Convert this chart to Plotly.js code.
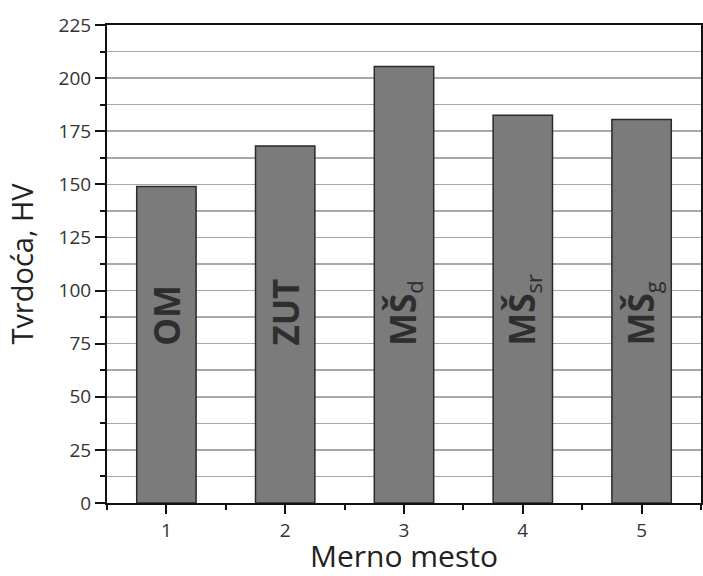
<!DOCTYPE html>
<html>
<head>
<meta charset="utf-8">
<script src="https://cdn.plot.ly/plotly-3.0.1.min.js"></script>
<style>html,body{margin:0;padding:0;background:#fff;}#chart{width:703px;height:576px;}</style>
</head>
<body>
<div id="chart"></div>
<script>
const positions = [1, 2, 3, 4, 5];
const hardness = [149, 168, 205.5, 182.5, 180.5];
const barMain = ["OM", "ZUT", "MŠ", "MŠ", "MŠ"];
const barSub = ["", "", "d", "sr", "g"];
const yTicks = [0, 25, 50, 75, 100, 125, 150, 175, 200, 225];
const xTitle = 'Merno mesto';
const yTitle = 'Tvrdoća, HV';
const labelBase = 73;

const fontFam = '"Open Sans", "DejaVu Sans", sans-serif';

const trace = {
  type: 'bar',
  x: positions,
  y: hardness,
  width: 0.5,
  marker: {color: '#7b7b7b', line: {color: '#2a2a2a', width: 1.5}},
  hoverinfo: 'none'
};

const annotations = positions.map((p, i) => ({
  x: p, y: labelBase, xref: 'x', yref: 'y',
  text: '<b>' + barMain[i] + '</b>' + (barSub[i] ? '<sub><span style="font-size:22px">' + barSub[i] + '</span></sub>' : ''),
  textangle: -90, showarrow: false,
  xanchor: 'center', yanchor: 'bottom',
  font: {family: fontFam, size: 35, color: '#2e2e2e'}
}));

annotations.push({
  x: 0.5, y: -0.11, xref: 'paper', yref: 'paper',
  text: xTitle, showarrow: false, xanchor: 'center', yanchor: 'middle',
  borderpad: 0,
  font: {family: fontFam, size: 30, color: '#222'}
});

const layout = {
  width: 703, height: 576,
  margin: {l: 107, r: 2, t: 25, b: 73},
  paper_bgcolor: '#fff', plot_bgcolor: '#fff',
  showlegend: false,
  font: {family: fontFam, color: '#333'},
  xaxis: {
    range: [0.5, 5.5], tickvals: positions, ticktext: positions.map(String),
    ticks: 'outside', ticklen: 9, tickwidth: 2, tickcolor: '#111',
    minor: {dtick: 0.5, tick0: 0.5, ticks: 'outside', ticklen: 5, tickwidth: 2, tickcolor: '#111', showgrid: false},
    showline: true, linecolor: '#111', linewidth: 2, mirror: true,
    showgrid: false, zeroline: false,
    tickfont: {family: fontFam, size: 19, color: '#333'},
    automargin: false
  },
  yaxis: {
    range: [0, 225], tickvals: yTicks,
    ticks: 'outside', ticklen: 10, tickwidth: 2, tickcolor: '#111',
    minor: {dtick: 12.5, tick0: 0, ticks: 'outside', ticklen: 5, tickwidth: 2, tickcolor: '#111', showgrid: true, gridcolor: '#a8a8a8', gridwidth: 1.5},
    showline: true, linecolor: '#111', linewidth: 2, mirror: true,
    showgrid: true, gridcolor: '#a8a8a8', gridwidth: 1.5, zeroline: false,
    tickfont: {family: fontFam, size: 19, color: '#333'},
    title: {text: yTitle, font: {family: fontFam, size: 29, color: '#222'}, standoff: 16},
    automargin: false
  },
  xaxis2: {
    overlaying: 'x', side: 'top', range: [0.5, 5.5], tickvals: positions,
    ticks: 'inside', ticklen: 10, tickwidth: 2, tickcolor: '#111',
    minor: {dtick: 0.5, tick0: 0.5, ticks: 'inside', ticklen: 5, tickwidth: 2, tickcolor: '#111', showgrid: false},
    showticklabels: false, showgrid: false, zeroline: false, showline: false
  },
  yaxis2: {
    overlaying: 'y', side: 'right', range: [0, 225], tickvals: yTicks,
    ticks: 'inside', ticklen: 7, tickwidth: 2, tickcolor: '#111',
    minor: {dtick: 12.5, tick0: 0, ticks: 'inside', ticklen: 5, tickwidth: 2, tickcolor: '#111', showgrid: false},
    showticklabels: false, showgrid: false, zeroline: false, showline: false
  },
  annotations: annotations
};

Plotly.newPlot('chart', [trace], layout, {displayModeBar: false, staticPlot: true});
</script>
</body>
</html>
